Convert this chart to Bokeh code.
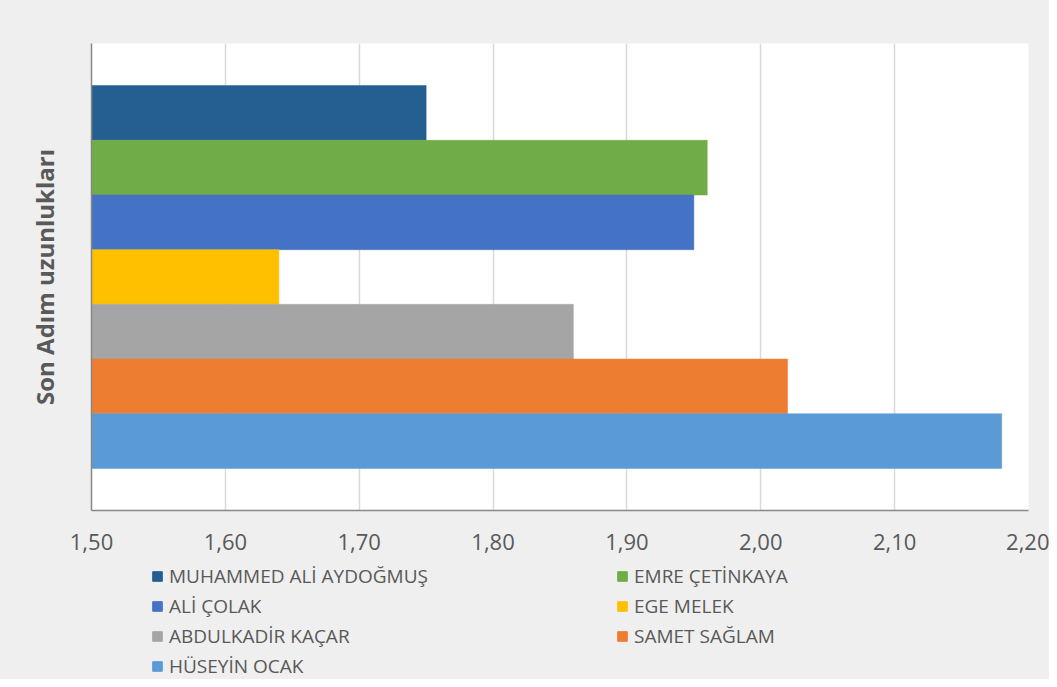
from bokeh.plotting import figure
from bokeh.models import (ColumnDataSource, Range1d, FixedTicker, CustomJSTickFormatter,
                          Legend, LegendItem)
from bokeh.layouts import column
from bokeh.embed import file_html
from bokeh.resources import INLINE

# ---- data ----
names = ["MUHAMMED ALİ AYDOĞMUŞ", "EMRE ÇETİNKAYA", "ALİ ÇOLAK", "EGE MELEK",
         "ABDULKADİR KAÇAR", "SAMET SAĞLAM", "HÜSEYİN OCAK"]
values = [1.75, 1.96, 1.95, 1.64, 1.86, 2.02, 2.18]
colors = ["#255E91", "#70AD47", "#4472C4", "#FFC000", "#A5A5A5", "#ED7D31", "#5B9BD5"]
x_ticks = [1.5, 1.6, 1.7, 1.8, 1.9, 2.0, 2.1, 2.2]
y_title = "Son Adım uzunlukları"

FONT = "Open Sans"
TEXT = "#595959"
BG = "#EFEFEF"
W = 1049
H_MAIN = 563
H_LEG = 116
LEFT, RIGHT = 91, 21

n = len(names)
ypos = [n - 1 - i for i in range(n)]
src = ColumnDataSource(dict(name=names, value=values, color=colors, y=ypos))

p = figure(width=W, height=H_MAIN, output_backend="svg", toolbar_location=None,
           x_range=Range1d(x_ticks[0], x_ticks[-1]), y_range=Range1d(-1.27, n - 1 + 1.27),
           min_border_left=LEFT, min_border_right=RIGHT, min_border_top=43,
           min_border_bottom=H_MAIN - 510)
p.border_fill_color = BG
p.background_fill_color = "white"
p.outline_line_color = None

r = p.hbar(y="y", right="value", left=x_ticks[0], height=1.0, fill_color="color",
           line_color="color", line_width=0.5, source=src)

# x axis
p.xaxis.ticker = FixedTicker(ticks=x_ticks)
p.xaxis.formatter = CustomJSTickFormatter(code="return tick.toFixed(2).replace('.', ',');")
p.xaxis.major_tick_line_color = None
p.xaxis.minor_tick_line_color = None
p.xaxis.major_tick_out = 0
p.xaxis.major_label_standoff = 23
p.xaxis.major_label_text_font = FONT
p.xaxis.major_label_text_font_size = "22px"
p.xaxis.major_label_text_color = TEXT
p.xaxis.axis_line_color = "#878787"
p.xaxis.axis_line_width = 1.5

# y axis (line and title only)
p.yaxis.ticker = FixedTicker(ticks=[])
p.yaxis.major_tick_line_color = None
p.yaxis.minor_tick_line_color = None
p.yaxis.major_tick_out = 0
p.yaxis.major_label_standoff = 0
p.yaxis.axis_line_color = "#878787"
p.yaxis.axis_line_width = 1.5
p.yaxis.axis_label = y_title
p.yaxis.axis_label_text_font = FONT
p.yaxis.axis_label_text_font_style = "bold"
p.yaxis.axis_label_text_font_size = "24px"
p.yaxis.axis_label_text_color = TEXT
p.yaxis.axis_label_standoff = 31

p.ygrid.grid_line_color = None
p.xgrid.grid_line_color = "#D9D9D9"
p.xgrid.grid_line_width = 1.5
p.xgrid.ticker = FixedTicker(ticks=x_ticks)

# ---- legend strip (same data; its view lies away from the bars) ----
lf = figure(width=W, height=H_LEG, output_backend="svg", toolbar_location=None,
            x_range=Range1d(0, 1), y_range=Range1d(100, 101),
            x_axis_location=None, y_axis_location=None,
            min_border_left=LEFT, min_border_right=RIGHT, min_border_top=0, min_border_bottom=0)
lf.border_fill_color = BG
lf.background_fill_color = BG
lf.outline_line_color = None
lf.grid.visible = False
lr = lf.hbar(y="y", right="value", left=x_ticks[0], height=1.0, fill_color="color",
             line_color="color", source=src)

def make_legend(idx, loc):
    items = [LegendItem(label=names[i], renderers=[lr], index=i) for i in idx]
    lg = Legend(items=items, location=loc, orientation="vertical")
    lg.background_fill_alpha = 0
    lg.border_line_color = None
    lg.padding = 0
    lg.margin = 0
    lg.spacing = 4
    lg.glyph_width = 12
    lg.glyph_height = 12
    lg.label_height = 26
    lg.label_standoff = 6
    lg.label_text_font = FONT
    lg.label_text_font_size = "19px"
    lg.label_text_color = TEXT
    return lg

lf.add_layout(make_legend([0, 2, 4, 6], (60, 0)))
lf.add_layout(make_legend([1, 3, 5], (525, 30)))

layout = column(p, lf, spacing=0, styles={"background-color": BG})
open("out.html", "w").write(file_html(layout, INLINE))
